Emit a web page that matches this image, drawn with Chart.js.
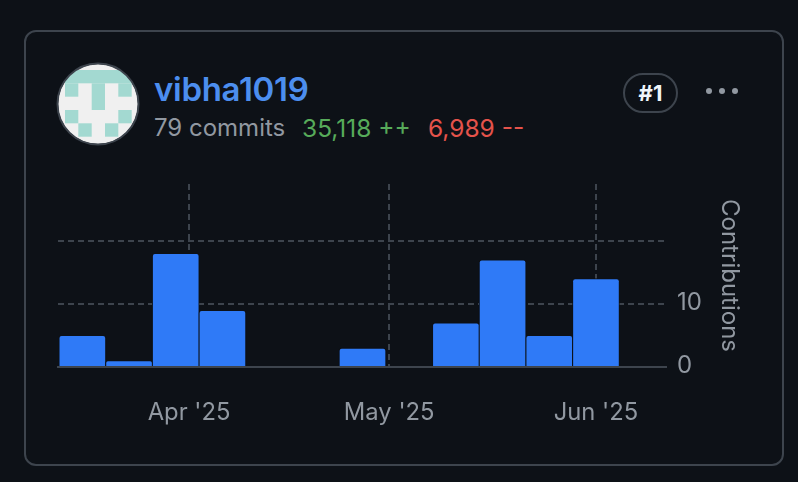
<!DOCTYPE html>
<html>
<head>
<meta charset="utf-8">
<script src="https://cdn.jsdelivr.net/npm/chart.js@4/dist/chart.umd.min.js"></script>
<style>
html,body{margin:0;padding:0;background:#0d1117;width:798px;height:482px;overflow:hidden;font-family:Inter,"Liberation Sans",sans-serif}
#card{position:absolute;left:24px;top:30px;width:756px;height:432px;border:2px solid #3d444d;border-radius:12px}
canvas{position:absolute;left:0;top:0}
.t{position:absolute;white-space:nowrap;line-height:1}
#avatar{position:absolute;left:56px;top:62px}
#pill{position:absolute;left:623px;top:73px;width:51px;height:36px;border:2px solid #3d444d;border-radius:20px;color:#f0f6fc;font-weight:700;font-size:22px;text-align:center;line-height:36px}
.dot{position:absolute;top:88px;width:6px;height:6px;border-radius:50%;background:#9198a1}
</style>
</head>
<body>
<div id="card"></div>
<svg id="avatar" width="84" height="84" viewBox="56 62 84 84">
<defs><clipPath id="c"><circle cx="98" cy="104" r="40"/></clipPath></defs>
<circle cx="98" cy="104" r="40" fill="#f0f0f0"/>
<g clip-path="url(#c)" fill="#a3d9d1">
<rect x="65" y="70" width="66.7" height="13.3"/>
<rect x="65" y="83.3" width="13.3" height="13.4"/><rect x="91.7" y="83.3" width="13.3" height="26.7"/><rect x="118.3" y="83.3" width="13.4" height="13.4"/>
<rect x="65" y="110" width="13.3" height="13.3"/><rect x="118.3" y="110" width="13.4" height="13.3"/>
<rect x="78.3" y="123.3" width="13.4" height="13.4"/><rect x="105" y="123.3" width="13.3" height="13.4"/>
</g>
<circle cx="98" cy="104" r="40.5" fill="none" stroke="#3d444d" stroke-width="2"/>
</svg>
<div class="t" style="left:154px;top:73px;font-size:33px;font-weight:600;color:#4c8eef;letter-spacing:-.3px">vibha1019</div>
<div class="t" style="left:154px;top:116px;font-size:24px;color:#9198a1">79 commits</div>
<div class="t" style="left:302px;top:116px;font-size:24.5px;color:#57ab5a">35,118 ++</div>
<div class="t" style="left:428px;top:116px;font-size:24.5px;color:#e5534b">6,989 --</div>
<div id="pill">#1</div>
<div class="dot" style="left:706px"></div><div class="dot" style="left:719px"></div><div class="dot" style="left:732px"></div>
<canvas id="chart" width="798" height="482"></canvas>
<script>
const weeks = ["2025-03-16","2025-03-23","2025-03-30","2025-04-06","2025-04-13","2025-04-20","2025-04-27","2025-05-04","2025-05-11","2025-05-18","2025-05-25","2025-06-01"];
const contributions = [5,1,18,9,0,0,3,0,7,17,5,14];
const monthDates = ["2025-04-01","2025-05-01","2025-06-01"];
const monthLabels = ["Apr '25","May '25","Jun '25"];
const yTicks = [0,10,20];
const yTickLabels = ["0","10",""];
const yTitle = "Contributions";

const ms = s => Date.parse(s + "T00:00:00Z");
const FONT = 'Inter, "Liberation Sans", sans-serif';
const GRID = "#3d444d", TEXT = "#9198a1", BG = "#0d1117";

new Chart(document.getElementById("chart"), {
  type: "bar",
  data: { datasets: [{
    data: weeks.map((w,i) => ({x: ms(w), y: contributions[i]})),
    backgroundColor: "#2f7af7",
    borderColor: BG,
    borderWidth: 1,
    borderRadius: 3,
    barThickness: 47
  }]},
  options: {
    responsive: false,
    animation: false,
    layout: { padding: { left: 58, top: 184, right: 54, bottom: 0 } },
    plugins: { legend: {display:false}, tooltip: {enabled:false} },
    scales: {
      x: {
        type: "linear",
        offset: false,
        min: Date.parse("2025-03-12T08:24:00Z"),
        max: Date.parse("2025-06-11T12:00:00Z"),
        afterBuildTicks: s => { s.ticks = monthDates.map(d => ({value: ms(d)})); },
        afterFit: s => { s.height = 115; },
        grid: { offset: false, color: GRID, lineWidth: 2, drawTicks: false },
        border: { display: true, color: GRID, width: 2, dash: [6,4], z: 1 },
        ticks: {
          autoSkip: false, maxRotation: 0, color: TEXT, padding: 32,
          font: { family: FONT, size: 23.8 },
          callback: (v) => monthLabels[monthDates.findIndex(d => ms(d) === v)]
        }
      },
      y: {
        position: "right",
        min: 0, max: 29,
        afterBuildTicks: s => { s.ticks = yTicks.map(v => ({value: v})); },
        afterFit: s => { s.width = 78; },
        grid: { color: c => c.tick && c.tick.value === 0 ? "transparent" : GRID, lineWidth: 2, drawTicks: false },
        border: { display: false, dash: [6,4] },
        ticks: {
          color: TEXT, padding: 11, labelOffset: -1.5,
          font: { family: FONT, size: 24 },
          callback: v => yTickLabels[yTicks.indexOf(v)]
        },
        title: { display: true, text: yTitle, color: TEXT, padding: 0, font: { family: FONT, size: 24 } }
      }
    }
  }
});
</script>
</body>
</html>
